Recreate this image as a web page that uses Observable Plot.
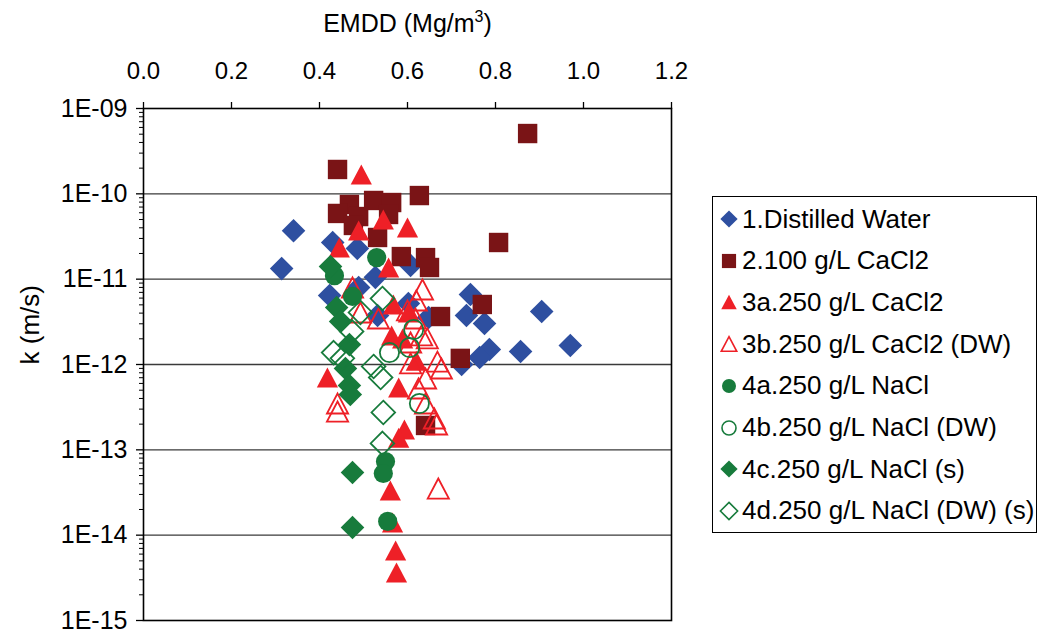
<!DOCTYPE html>
<html><head><meta charset="utf-8">
<script src="https://cdn.jsdelivr.net/npm/d3@7"></script>
<script src="https://cdn.jsdelivr.net/npm/@observablehq/plot@0.6"></script>
<style>
body{margin:0;background:#fff;color:#000;font-family:"Liberation Sans",Arial,sans-serif;}
#wrap{position:relative;width:1039px;height:633px;overflow:hidden;background:#fff;}
#chart{position:absolute;left:0;top:0;}
#legend{position:absolute;left:712px;top:196px;width:325px;height:337px;border:1.5px solid #000;box-sizing:border-box;}
.row{position:absolute;left:0;height:42px;display:flex;align-items:center;font-size:26px;white-space:nowrap;}
.row svg{margin-left:5px;margin-right:2px;}
</style></head>
<body><div id="wrap"><div id="chart"></div><div id="legend"></div></div>
<script>
// ---- data: [EMDD (Mg/m3), k (m/s)] ----
const distilledWater = [[0.341,3.7e-11],[0.314,1.33e-11],[0.430,2.69e-11],[0.486,2.29e-11],[0.527,1.05e-11],[0.607,1.45e-11],[0.489,7.98e-12],[0.423,6.44e-12],[0.602,5.19e-12],[0.532,3.75e-12],[0.648,3.56e-12],[0.743,6.61e-12],[0.734,3.75e-12],[0.775,3.02e-12],[0.905,4.18e-12],[0.786,1.50e-12],[0.764,1.21e-12],[0.857,1.42e-12],[0.970,1.67e-12],[0.723,1.0e-12]];
const cacl2_100 = [[0.441,1.93e-10],[0.468,7.5e-11],[0.441,5.89e-11],[0.489,5.42e-11],[0.477,4.26e-11],[0.523,8.36e-11],[0.564,7.91e-11],[0.557,5.73e-11],[0.627,9.55e-11],[0.532,3.08e-11],[0.586,1.84e-11],[0.641,1.79e-11],[0.650,1.37e-11],[0.873,5.09e-10],[0.807,2.69e-11],[0.770,5.05e-12],[0.675,3.65e-12],[0.720,1.18e-12],[0.641,1.93e-13]];
const cacl2_250 = [[0.495,1.69e-10],[0.545,5.0e-11],[0.489,3.72e-11],[0.600,4.03e-11],[0.445,2.35e-11],[0.557,1.37e-11],[0.568,5.05e-12],[0.602,4.07e-12],[0.564,2.19e-12],[0.589,2.02e-12],[0.620,1.11e-12],[0.418,7.04e-13],[0.580,5.37e-13],[0.593,1.73e-13],[0.580,1.39e-13],[0.561,3.33e-14],[0.566,1.41e-14],[0.573,6.61e-15],[0.575,3.65e-15]];
const cacl2_250dw = [[0.475,7.98e-12],[0.493,4.07e-12],[0.534,3.46e-12],[0.634,7.57e-12],[0.620,5.62e-12],[0.600,4.30e-12],[0.618,3.46e-12],[0.632,2.19e-12],[0.607,1.81e-12],[0.645,2.02e-12],[0.607,1.03e-12],[0.668,1.08e-12],[0.677,8.98e-13],[0.641,6.85e-13],[0.625,5.23e-13],[0.441,3.49e-13],[0.441,2.81e-13],[0.641,3.49e-13],[0.661,2.33e-13],[0.666,1.98e-13],[0.670,3.52e-14]];
const nacl = [[0.530,1.79e-11],[0.434,1.10e-11],[0.475,6.27e-12],[0.550,7.30e-14],[0.545,5.28e-14],[0.555,1.45e-14]];
const nacl_dw = [[0.614,2.57e-12],[0.559,1.38e-12],[0.605,1.58e-12],[0.627,3.49e-13]];
const nacl_s = [[0.425,1.41e-11],[0.439,4.66e-12],[0.448,3.19e-12],[0.468,1.71e-12],[0.459,8.98e-13],[0.468,5.67e-13],[0.470,4.45e-13],[0.475,5.42e-14],[0.475,1.23e-14]];
const nacl_dw_s = [[0.543,5.93e-12],[0.493,4.07e-12],[0.473,2.44e-12],[0.432,1.38e-12],[0.452,1.18e-12],[0.523,9.48e-13],[0.539,7.04e-13],[0.545,2.74e-13],[0.543,1.19e-13]];

const seriesNames = ["1.Distilled Water","2.100 g/L CaCl2","3a.250 g/L CaCl2","3b.250 g/L CaCl2 (DW)","4a.250 g/L NaCl","4b.250 g/L NaCl (DW)","4c.250 g/L NaCl (s)","4d.250 g/L NaCl (DW) (s)"];
const xTicks = [0, 0.2, 0.4, 0.6, 0.8, 1.0, 1.2];
const yTicks = [1e-15, 1e-14, 1e-13, 1e-12, 1e-11, 1e-10, 1e-9];
const gridK = [1e-14, 1e-13, 1e-12, 1e-11, 1e-10];

// ---- symbols ----
const U = s => Math.sqrt(s / Math.PI);
const diamond = {draw(c, s){const h = U(s)*1.18; c.moveTo(0,-h); c.lineTo(h,0); c.lineTo(0,h); c.lineTo(-h,0); c.closePath();}};
const square = {draw(c, s){const h = U(s)*0.97; c.rect(-h,-h,2*h,2*h);}};
const triangle = {draw(c, s){const r = U(s); const w = r*1.06, hh = r*1.0; c.moveTo(0,-hh); c.lineTo(w,hh); c.lineTo(-w,hh); c.closePath();}};
const circle = {draw(c, s){const r = U(s)*0.96; c.moveTo(r,0); c.arc(0,0,r,0,2*Math.PI);}};

const BLUE = "#2E4FA0", BROWN = "#7A1416", RED = "#EE2027", GREEN = "#177B3C";
const series = [
  {data: distilledWater, symbol: diamond, color: BLUE, filled: true},
  {data: cacl2_100, symbol: square, color: BROWN, filled: true},
  {data: cacl2_250, symbol: triangle, color: RED, filled: true},
  {data: cacl2_250dw, symbol: triangle, color: RED, filled: false},
  {data: nacl, symbol: circle, color: GREEN, filled: true},
  {data: nacl_dw, symbol: circle, color: GREEN, filled: false},
  {data: nacl_s, symbol: diamond, color: GREEN, filled: true},
  {data: nacl_dw_s, symbol: diamond, color: GREEN, filled: false}
].map((s, i) => ({...s, name: seriesNames[i]}));

const minor = [];
for (let e = -15; e < -9; e++) for (let m = 2; m <= 9; m++) minor.push(m * Math.pow(10, e));
const fmtY = d => { const e = Math.round(Math.log10(d)); return "1E-" + String(-e).padStart(2, "0"); };

const plot = Plot.plot({
  width: 700, height: 633,
  marginLeft: 143, marginRight: 29, marginTop: 108, marginBottom: 13,
  style: {fontFamily: "'Liberation Sans', Arial, sans-serif", background: "white", color: "black"},
  x: {domain: [0, 1.2], axis: null},
  y: {type: "log", domain: [1e-15, 1e-9], axis: null},
  marks: [
    Plot.ruleY(gridK, {stroke: "#3a3a3a", strokeWidth: 1.3}),
    Plot.frame({stroke: "#000", strokeWidth: 1.6}),
    Plot.axisX({anchor: "top", ticks: xTicks, tickFormat: d => d.toFixed(1), tickSize: 7, tickPadding: 23, fontSize: 24, label: null, strokeWidth: 1.3}),
    Plot.axisY({anchor: "left", ticks: yTicks, tickFormat: fmtY, tickSize: 7, tickPadding: 9, fontSize: 25, label: null, strokeWidth: 1.3}),
    Plot.axisY({anchor: "left", ticks: minor, tickFormat: () => "", tickSize: 4, label: null, strokeWidth: 1}),
    ...series.map(s => Plot.dot(s.data, {x: d => d[0], y: d => d[1], r: 10, symbol: s.symbol,
      fill: s.filled ? s.color : "none", stroke: s.filled ? "none" : s.color, strokeWidth: 1.8})),
    Plot.text(["EMDD (Mg/m3)"], {frameAnchor: "top", dy: -94, fontSize: 25, text: d => d}),
    Plot.text(["k (m/s)"], {frameAnchor: "left", dx: -113, rotate: -90, fontSize: 26, text: d => d})
  ]
});
document.getElementById("chart").appendChild(plot);
// superscript 3 in the x-axis title
plot.querySelectorAll("text").forEach(t => {
  if (t.textContent === "EMDD (Mg/m3)") {
    t.innerHTML = 'EMDD (Mg/m<tspan dy="-10" font-size="16">3</tspan><tspan dy="10">)</tspan>';
  }
});

// ---- legend ----
const legend = document.getElementById("legend");
series.forEach((s, i) => {
  const row = document.createElement("div");
  row.className = "row";
  row.style.top = (22 + i * 41.7 - 21) + "px";
  const size = Math.PI * 7.3 * 7.3;
  const path = d3.symbol(s.symbol, size)();
  row.innerHTML = `<svg width="22" height="22" viewBox="-11 -11 22 22"><path d="${path}" fill="${s.filled ? s.color : "none"}" stroke="${s.filled ? "none" : s.color}" stroke-width="1.6"/></svg><span></span>`;
  row.querySelector("span").textContent = s.name;
  legend.appendChild(row);
});
</script></body></html>
